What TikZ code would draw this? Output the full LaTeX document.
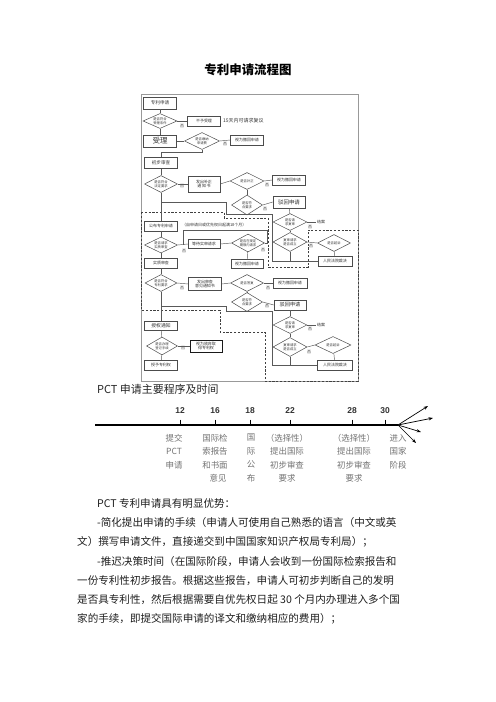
\documentclass[tikz,border=0pt]{standalone}
\usepackage{fontspec}
\newfontfamily\cjk{Noto Sans CJK SC}
\newfontfamily\lsans{Liberation Sans}
\usetikzlibrary{shapes.geometric,arrows.meta}
\begin{document}
\begin{tikzpicture}[x=1bp,y=-1bp,
 fl/.style={draw=black!65, line width=0.45bp},
 bx/.style={draw=black!70, line width=0.5bp, fill=white, minimum width=33bp, minimum height=10bp, inner sep=0pt, align=center, font=\cjk\fontsize{4}{4.6}\selectfont, text=black!80},
 dm/.style={diamond, aspect=2, draw=black!70, line width=0.5bp, fill=white, minimum width=33bp, minimum height=17bp, inner sep=0pt, align=center, font=\cjk\fontsize{3.3}{3.8}\selectfont, text=black!80},
 lb/.style={font=\cjk\fontsize{4}{4.6}\selectfont, inner sep=0pt, text=black!80},
 dsh/.style={draw=black!75, dash pattern=on 2.2bp off 1.6bp, line width=0.55bp},
 tl/.style={font=\cjk\fontsize{8.5}{13.5}\selectfont, text=black!55, align=center, inner sep=0pt, anchor=north},
 body/.style={font=\cjk\fontsize{10.6}{13}\selectfont, text=black!88, inner sep=0pt, anchor=west},
 numf/.style={font=\lsans\bfseries\fontsize{8.5}{10}\selectfont, text=black!80, inner sep=0pt},
 arr/.style={-{Stealth[length=4.5bp,width=3.2bp]}, line width=0.7bp}]
\useasboundingbox (0,0) rectangle (496,702);
\fill[white] (0,0) rectangle (496,702);
% title
\node[font=\cjk\bfseries\fontsize{12.5}{14}\selectfont] (title) at (248,70) {专利申请流程图};
% frame
\draw[draw=black!40, line width=0.5bp] (141,94) rectangle (358,381);
% dashed region
\draw[dsh] (141,212) -- (224,212) -- (224,218) -- (268,218) -- (268,267) -- (308,267) -- (308,230) -- (358,230) -- (358,381) -- (265,381) -- (265,332) -- (220,332) -- (220,310) -- (141,310) -- cycle;
% nodes
\node[bx, font=\cjk\fontsize{4.6}{5}\selectfont, minimum height=12bp] (n1) at (160,103) {专利申请};
\node[dm, minimum width=34bp, minimum height=15bp] (d1) at (160,121) {是否符合\\受理条件};
\node[bx] (n2) at (204,121) {不予受理};
\node[lb, anchor=west, font=\cjk\fontsize{5}{6}\selectfont] (t1) at (223,120.5) {15天内可请求复议};
\node[lb] (f1) at (182,126) {否};
\node[bx, font=\cjk\fontsize{7.5}{8}\selectfont, minimum height=12bp] (n3) at (160,141) {受理};
\node[dm, minimum width=35bp] (d2) at (202,141) {是否缴纳\\申请费};
\node[lb] (f2) at (225,144.5) {否};
\node[bx] (n4) at (247,140) {视为撤回申请};
\node[bx, font=\cjk\fontsize{4.6}{5}\selectfont, minimum height=11bp] (n5) at (161,163) {初步审查};
\node[dm] (d3) at (161,184) {是否符合\\法定要求};
\node[lb] (f3) at (182,186.5) {否};
\node[bx, minimum width=32bp, minimum height=16bp] (n6) at (204,184) {发出补正\\通\,知\,书};
\node[dm, minimum width=34bp] (d4) at (247,181) {是否补正};
\node[lb] (f4) at (267,185.5) {否};
\node[bx] (n7) at (289,180) {视为撤回申请};
\node[dm, minimum width=31bp, minimum height=20bp] (d5) at (247,205) {是否符\\合要求};
\node[lb] (f5) at (265,209) {否};
\node[bx, font=\cjk\fontsize{5.5}{6}\selectfont, minimum height=12bp, minimum width=32bp] (n8) at (289,202) {驳回申请};
\node[dm, minimum width=34bp] (d6) at (290,222) {是否请\\求复审};
\coordinate (e6) at (316,222);
\node[lb, anchor=west] (t2) at (317,222) {结案};
\node[lb] (f6) at (310,227) {否};
\node[dm, minimum width=34bp, minimum height=19bp] (d7) at (290,242) {复审请求\\是否成立};
\node[lb] (f7) at (311,246) {否};
\node[dm] (d8) at (334,243) {是否起诉};
\node[bx, minimum width=34bp] (n9) at (335,261) {人民法院裁决};
\node[bx] (n10) at (161,226) {公布专利申请};
\node[lb, anchor=west] (t3) at (182,225) {（自申请日或优先权日起满18个月）};
\node[dm, minimum height=16bp] (d9) at (161,245) {是否请求\\实质审查};
\node[lb] (f9) at (184,251) {否};
\node[bx, minimum width=32bp, minimum height=9bp] (n11) at (204,244) {等待实审请求};
\node[dm, minimum height=18bp] (d10) at (248,243) {是否在规定\\期限内请求};
\node[lb] (f10) at (263,250) {否};
\node[bx, minimum width=32bp, minimum height=9bp] (n12) at (247,264) {视为撤回申请};
\node[bx] (n13) at (161,263) {实质审查};
\node[dm, minimum width=32bp] (d11) at (161,283) {是否符合\\专利要求};
\node[lb] (f11) at (182,288) {否};
\node[bx, minimum height=13bp] (n14) at (205,284) {发出审查\\意见通知书};
\node[dm] (d12) at (247,283) {是否答复};
\node[lb] (f12) at (268,288) {否};
\node[bx, minimum width=34bp] (n15) at (290,283) {视为撤回申请};
\node[dm, minimum width=31bp, minimum height=19bp] (d13) at (247,302) {是否符\\合要求};
\node[lb] (f13) at (267,306) {否};
\node[bx, font=\cjk\fontsize{5.2}{6}\selectfont, minimum width=32bp] (n16) at (290,305) {驳回申请};
\node[dm, minimum width=34bp] (d14) at (290,325) {是否请\\求复审};
\coordinate (e14) at (316,325);
\node[lb, anchor=west] (t4) at (317,325) {结案};
\node[lb] (f14) at (310,329) {否};
\node[dm, minimum width=34bp, minimum height=19bp] (d15) at (290,347) {复审请求\\是否成立};
\node[lb] (f15) at (309,352) {否};
\node[dm, minimum width=36bp] (d16) at (333,345) {是否起诉};
\node[bx, minimum width=35bp] (n17) at (335,365) {人民法院裁决};
\node[bx, font=\cjk\fontsize{4.8}{5}\selectfont, minimum height=9bp] (n18) at (161,326) {授权通知};
\node[dm, minimum width=31bp, minimum height=18bp] (d17) at (162,346) {是否办理\\登记手续};
\node[lb] (f17) at (183,348) {否};
\node[bx, draw=black!90, minimum width=32bp, minimum height=12bp] (n19) at (206,346) {视为放弃取\\得专利权};
\node[bx] (n20) at (161,365) {授予专利权};
% junction coordinates
\coordinate (c1) at (202,152);
\coordinate (j1) at (161,202);
\coordinate (j2) at (161,306);
% connectors
\draw[fl] (n1) -- (d1);
\draw[fl] (d1) -- (n3);
\draw[fl] (d1.east) -- (n2.west);
\draw[fl] (n3.east) -- (d2.west);
\draw[fl] (d2.east) -- (n4.west);
\draw[fl] (d2.south) -- (c1) -| (n5.north);
\draw[fl] (n5) -- (d3);
\draw[fl] (d3.east) -- (n6.west);
\draw[fl] (n6.east) -- (d4.west);
\draw[fl] (d4.east) -- (n7.west);
\draw[fl] (d4) -- (d5);
\draw[fl] (d5.east) -- (n8.west);
\draw[fl] (n8) -- (d6);
\draw[fl] (d6.east) -- (e6);
\draw[fl] (d6) -- (d7);
\draw[fl] (d7.east) -- (d8.west);
\draw[fl] (d8) -- (n9);
\draw[fl] (d3) -- (n10);
\draw[fl] (j1) -- (226,202) -- (226,214) -- (272,214) -- (272,261) -- (n9.west);
\draw[fl] (d7.south) -- (d7.south |- n9.west);
\draw[fl] (n10) -- (d9);
\draw[fl] (d9.east) -- (n11.west);
\draw[fl] (n11.east) -- (d10.west);
\draw[fl] (d10) -- (n12);
\draw[fl] (d10.east) -- (267,243) -- (267,230) -- (183,230) -- (183,245);
\draw[fl] (d9) -- (n13);
\draw[fl] (n13) -- (d11);
\draw[fl] (d11.east) -- (n14.west);
\draw[fl] (n14.east) -- (d12.west);
\draw[fl] (d12.east) -- (n15.west);
\draw[fl] (d12) -- (d13);
\draw[fl] (d13.east) -- (n16.west);
\draw[fl] (n16) -- (d14);
\draw[fl] (d14.east) -- (e14);
\draw[fl] (d14) -- (d15);
\draw[fl] (d15.east) -- (d16.west);
\draw[fl] (d16) -- (n17);
\draw[fl] (d15.south) -- (d15.south |- n17.west);
\draw[fl] (j2) -- (226,306) -- (226,311) -- (272,311) -- (272,365) -- (n17.west);
\draw[fl] (d11) -- (n18);
\draw[fl] (n18) -- (d17);
\draw[fl] (d17.east) -- (n19.west);
\draw[fl] (d17) -- (n20);
% PCT timeline
\node[font=\cjk\fontsize{11}{13}\selectfont, text=black!85, anchor=west, inner sep=0pt] (pcth) at (97,389) {PCT 申请主要程序及时间};
\coordinate (tl0) at (95,425);
\coordinate (fo) at (398,425);
\draw[line width=1.5bp] (tl0) -- (fo);
\foreach \x/\n in {180/12,215/16,250/18,290/22,352/28,385/30} {
  \draw[line width=0.5bp] (\x,419.5) -- (\x,425);
  \node[numf] (m\n) at (\x,411) {\n};
}
\coordinate (a1) at (428,406);
\coordinate (a2) at (433,418);
\coordinate (a3) at (421,432);
\coordinate (a4) at (416,443);
\draw[arr] (fo) -- (a1);
\draw[arr] (fo) -- (a2);
\draw[arr] (fo) -- (a3);
\draw[arr] (fo) -- (a4);
\node[tl] (c12) at (174,434) {提交\\PCT\\申请};
\node[tl] (c16) at (215,434) {国际检\\索报告\\和书面\\\hspace*{6bp}意见};
\node[tl] (c18) at (251,434) {国\\际\\公\\布};
\node[tl] (c22) at (287,434) {（选择性）\\提出国际\\初步审查\\要求};
\node[tl] (c28) at (354,434) {（选择性）\\提出国际\\初步审查\\要求};
\node[tl] (c30) at (398,434) {进入\\国家\\阶段};
% body text
\node[body] (b0) at (97,503.5) {PCT 专利申请具有明显优势：};
\node[body] (b1) at (97,522.7) {-简化提出申请的手续（申请人可使用自己熟悉的语言（中文或英};
\node[body] (b2) at (77,541.9) {文）撰写申请文件，直接递交到中国国家知识产权局专利局）；};
\node[body] (b3) at (97,561.1) {-推迟决策时间（在国际阶段，申请人会收到一份国际检索报告和};
\node[body] (b4) at (77,580.3) {一份专利性初步报告。根据这些报告，申请人可初步判断自己的发明};
\node[body] (b5) at (77,599.5) {是否具专利性，然后根据需要自优先权日起 30 个月内办理进入多个国};
\node[body] (b6) at (77,618.7) {家的手续，即提交国际申请的译文和缴纳相应的费用）；};
\end{tikzpicture}
\end{document}
